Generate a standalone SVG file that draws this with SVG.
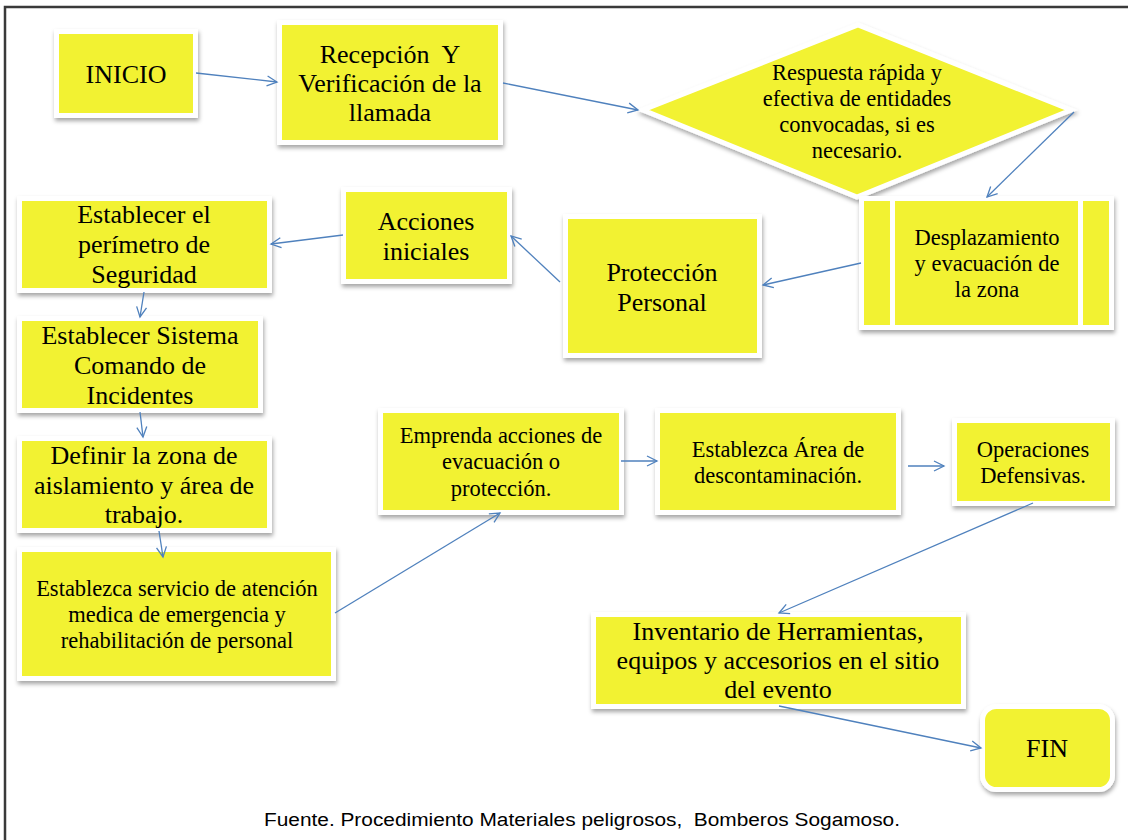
<svg xmlns="http://www.w3.org/2000/svg" width="1128" height="840" viewBox="0 0 1128 840">
<defs>
<filter id="sh" x="-10%" y="-10%" width="125%" height="130%">
<feDropShadow dx="1" dy="3" stdDeviation="2" flood-color="#000" flood-opacity="0.35"/>
</filter>
<marker id="arr" markerUnits="userSpaceOnUse" markerWidth="14" markerHeight="14" refX="11" refY="6" orient="auto">
<path d="M1,1 L11,6 L1,11" fill="none" stroke="#4F81BD" stroke-width="1.3"/>
</marker>
</defs>
<style>
.box{fill:#F2F232;stroke:#FFFFFF;stroke-width:5;filter:url(#sh)}
.t{font-family:'Liberation Serif','Tinos','Times New Roman','DejaVu Serif',serif;fill:#000;text-anchor:middle}
.L{font-size:26px}
.S{font-size:22.5px}
.c{fill:none;stroke:#4F81BD;stroke-width:1.3;marker-end:url(#arr)}
.cap{font-family:'Liberation Sans',Arial,sans-serif;font-size:18px;fill:#000}
</style>
<rect x="0" y="0" width="1128" height="840" fill="#FFFFFF"/>
<path d="M5,840 L5,7 L1128,7" fill="none" stroke="#3A3A3A" stroke-width="2.5"/>

<g id="inicio">
<rect class="box" x="56.5" y="31.5" width="139" height="84"/>
<text class="t L" x="126" y="83">INICIO</text>
</g>
<g id="recepcion">
<rect class="box" x="279.5" y="22.5" width="221" height="120"/>
<text class="t L" x="390" y="63" xml:space="preserve">Recepción  Y</text>
<text class="t L" x="390" y="92">Verificación de la</text>
<text class="t L" x="390" y="121">llamada</text>
</g>
<g id="respuesta">
<polygon class="box" points="643,110 858,25 1071,110 857,197"/>
<text class="t S" x="857" y="80">Respuesta rápida y</text>
<text class="t S" x="857" y="106">efectiva de entidades</text>
<text class="t S" x="857" y="132">convocadas, si es</text>
<text class="t S" x="857" y="158">necesario.</text>
</g>
<g id="desplazamiento">
<rect class="box" x="861.5" y="198.5" width="250" height="129"/>
<rect x="890" y="201" width="5" height="124" fill="#FFFFFF"/>
<rect x="1078" y="201" width="5" height="124" fill="#FFFFFF"/>
<text class="t S" x="987" y="245">Desplazamiento</text>
<text class="t S" x="987" y="271">y evacuación de</text>
<text class="t S" x="987" y="297">la zona</text>
</g>
<g id="proteccion">
<rect class="box" x="565.5" y="216.5" width="194" height="139"/>
<text class="t L" x="662" y="281">Protección</text>
<text class="t L" x="662" y="311">Personal</text>
</g>
<g id="acciones">
<rect class="box" x="343.5" y="189.5" width="166" height="92"/>
<text class="t L" x="426" y="230">Acciones</text>
<text class="t L" x="426" y="260">iniciales</text>
</g>
<g id="perimetro">
<rect class="box" x="19.5" y="198.5" width="250" height="92"/>
<text class="t L" x="144" y="223">Establecer el</text>
<text class="t L" x="144" y="253">perímetro de</text>
<text class="t L" x="144" y="283">Seguridad</text>
</g>
<g id="sistema">
<rect class="box" x="19.5" y="318.5" width="241" height="92"/>
<text class="t L" x="140" y="344">Establecer Sistema</text>
<text class="t L" x="140" y="374">Comando de</text>
<text class="t L" x="140" y="404">Incidentes</text>
</g>
<g id="definir">
<rect class="box" x="19.5" y="438.5" width="250" height="92"/>
<text class="t L" x="144" y="464">Definir la zona de</text>
<text class="t L" x="144" y="494">aislamiento y área de</text>
<text class="t L" x="144" y="523">trabajo.</text>
</g>
<g id="servicio">
<rect class="box" x="19.5" y="549.5" width="314" height="129"/>
<text class="t S" x="177" y="596">Establezca servicio de atención</text>
<text class="t S" x="177" y="622">medica de emergencia y</text>
<text class="t S" x="177" y="648">rehabilitación de personal</text>
</g>
<g id="emprenda">
<rect class="box" x="380.5" y="410.5" width="241" height="102"/>
<text class="t S" x="501" y="443">Emprenda acciones de</text>
<text class="t S" x="501" y="469">evacuación o</text>
<text class="t S" x="501" y="496">protección.</text>
</g>
<g id="area">
<rect class="box" x="657.5" y="410.5" width="241" height="102"/>
<text class="t S" x="778" y="457">Establezca Área de</text>
<text class="t S" x="778" y="483">descontaminación.</text>
</g>
<g id="operaciones">
<rect class="box" x="954.5" y="420.5" width="158" height="83"/>
<text class="t S" x="1033" y="457">Operaciones</text>
<text class="t S" x="1033" y="483">Defensivas.</text>
</g>
<g id="inventario">
<rect class="box" x="593.5" y="614.5" width="370" height="92"/>
<text class="t L" x="778" y="640">Inventario de Herramientas,</text>
<text class="t L" x="778" y="669">equipos y accesorios en el sitio</text>
<text class="t L" x="778" y="698">del evento</text>
</g>
<g id="fin">
<rect class="box" x="982.5" y="706.5" width="130" height="83" rx="14" ry="14"/>
<text class="t L" x="1047" y="757">FIN</text>
</g>

<g id="connectors">
<line class="c" x1="196" y1="73" x2="277" y2="82"/>
<line class="c" x1="503" y1="83" x2="638" y2="110"/>
<line class="c" x1="1074" y1="112" x2="987" y2="197"/>
<line class="c" x1="861" y1="263" x2="763" y2="285"/>
<line class="c" x1="560" y1="282" x2="511" y2="236"/>
<line class="c" x1="343" y1="235" x2="271" y2="244"/>
<line class="c" x1="144" y1="292" x2="140" y2="317"/>
<line class="c" x1="140" y1="412" x2="143" y2="437"/>
<line class="c" x1="159" y1="531" x2="163" y2="557"/>
<line class="c" x1="335" y1="613" x2="500" y2="513"/>
<line class="c" x1="621" y1="461" x2="657" y2="461"/>
<line class="c" x1="908" y1="466" x2="944" y2="466"/>
<line class="c" x1="1033" y1="503" x2="779" y2="613"/>
<line class="c" x1="779" y1="706" x2="981" y2="748"/>
</g>

<text class="cap" x="264" y="826" textLength="636" lengthAdjust="spacingAndGlyphs" xml:space="preserve">Fuente. Procedimiento Materiales peligrosos,  Bomberos Sogamoso.</text>
</svg>
